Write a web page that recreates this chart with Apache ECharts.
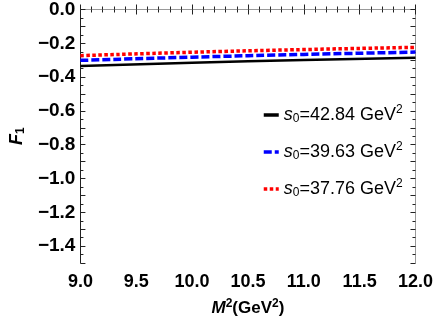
<!DOCTYPE html>
<html><head><meta charset="utf-8">
<script src="https://cdn.jsdelivr.net/npm/echarts@6/dist/echarts.min.js"></script>
<style>html,body{margin:0;padding:0;background:#fff}#c{width:436px;height:327px}</style>
</head><body><div id="c"></div>
<script>
const xValues = [9, 10, 11, 12];
const seriesNames = ['s0=42.84', 's0=39.63', 's0=37.76'];
const s1 = [-0.334, -0.315, -0.299, -0.285];
const s2 = [-0.301, -0.282, -0.266, -0.252];
const s3 = [-0.273, -0.253, -0.237, -0.224];
const xTicks = ['9.0','9.5','10.0','10.5','11.0','11.5','12.0'];
const yTicks = ['0.0','-0.2','-0.4','-0.6','-0.8','-1.0','-1.2','-1.4'];

const font = 'Liberation Sans, Arial, sans-serif';
const pairs = arr => xValues.map((x, i) => [x, arr[i]]);
const legendRich = {
  i: {fontStyle: 'italic', fontSize: 18, fontFamily: font, color: '#000'},
  sub: {fontSize: 12, fontFamily: font, color: '#000', padding: [8, 0, 0, 0]},
  n: {fontSize: 18, fontFamily: font, color: '#000'},
  sup: {fontSize: 12, fontFamily: font, color: '#000', padding: [0, 0, 10, 0]}
};
const axisLineBlack = {show: true, lineStyle: {color: '#222', width: 1}};
const chart = echarts.init(document.getElementById('c'), null, {renderer: 'canvas'});
chart.setOption({
  animation: false,
  backgroundColor: '#fff',
  grid: {left: 66, right: 18, top: 9, bottom: 64},
  legend: {
    orient: 'vertical', left: 257, top: 99, itemGap: 16,
    itemWidth: 15, itemHeight: 10,
    data: seriesNames,
    itemStyle: {opacity: 0},
    lineStyle: {width: 3.5},
    formatter: name => '{i|s}{sub|0}{n|' + name.slice(2) + ' GeV}{sup|2}',
    textStyle: {rich: legendRich}
  },
  xAxis: [{
    type: 'value', min: 9, max: 12, interval: 0.5, position: 'bottom',
    axisLine: axisLineBlack,
    axisTick: {inside: true, length: 5, lineStyle: {color: '#222'}},
    minorTick: {show: true, splitNumber: 5, length: 3, lineStyle: {color: '#222'}},
    splitLine: {show: false},
    axisLabel: {fontFamily: font, fontWeight: 'bold', fontSize: 18, color: '#000', margin: 10,
      formatter: v => xTicks[Math.round((v - 9) / 0.5)] || ''},
    name: '{i|M}{sup|2}{n|(GeV}{sup|2}{n|)}',
    nameLocation: 'middle', nameGap: 35,
    nameTextStyle: {rich: {
      i: {fontStyle: 'italic', fontWeight: 'bold', fontSize: 17, fontFamily: font, color: '#000'},
      n: {fontWeight: 'bold', fontSize: 17, fontFamily: font, color: '#000'},
      sup: {fontWeight: 'bold', fontSize: 12, fontFamily: font, color: '#000', padding: [0, 0, 9, 0]}
    }}
  }, {
    type: 'value', min: 9, max: 12, interval: 0.5, position: 'top',
    axisLine: {show: true, lineStyle: {color: '#999', width: 1}},
    axisTick: {inside: true, length: 5, lineStyle: {color: '#222'}},
    minorTick: {show: true, splitNumber: 5, length: 3, lineStyle: {color: '#222'}},
    splitLine: {show: false}, axisLabel: {show: false}
  }],
  yAxis: [{
    type: 'value', min: -1.5, max: 0, interval: 0.1, position: 'left',
    axisLine: axisLineBlack,
    axisTick: {inside: true, length: 5, lineStyle: {color: '#222'}},
    minorTick: {show: true, splitNumber: 2, length: 3, lineStyle: {color: '#222'}},
    splitLine: {show: false},
    axisLabel: {fontFamily: font, fontWeight: 'bold', fontSize: 19, color: '#000', margin: 5,
      formatter: v => {
        const k = Math.round(-v * 10);
        if (k % 2 !== 0) return '';
        return yTicks[k / 2] ? yTicks[k / 2].replace('-', '\u2212') : '';
      }},
    name: '{i|F}{sub|1}',
    nameLocation: 'middle', nameGap: 52, nameRotate: 90,
    nameTextStyle: {rich: {
      i: {fontStyle: 'italic', fontWeight: 'bold', fontSize: 18, fontFamily: font, color: '#000'},
      sub: {fontWeight: 'bold', fontSize: 12, fontFamily: font, color: '#000', padding: [8, 0, 0, 0]}
    }}
  }, {
    type: 'value', min: -1.5, max: 0, interval: 0.1, position: 'right',
    axisLine: {show: true, lineStyle: {color: '#999', width: 1}},
    axisTick: {inside: true, length: 5, lineStyle: {color: '#222'}},
    minorTick: {show: true, splitNumber: 2, length: 3, lineStyle: {color: '#222'}},
    splitLine: {show: false}, axisLabel: {show: false}
  }],
  series: [
    {name: seriesNames[0], type: 'line', data: pairs(s1), smooth: true, symbol: 'none',
      lineStyle: {color: '#000', width: 2.5, type: 'solid'}, itemStyle: {color: '#000'}},
    {name: seriesNames[1], type: 'line', data: pairs(s2), smooth: true, symbol: 'none',
      lineStyle: {color: '#0000ff', width: 3.5, type: [8, 3]}, itemStyle: {color: '#0000ff'}},
    {name: seriesNames[2], type: 'line', data: pairs(s3), smooth: true, symbol: 'none',
      lineStyle: {color: '#ff0000', width: 3.5, type: [3.5, 2.5]}, itemStyle: {color: '#ff0000'}}
  ]
});
</script></body></html>
